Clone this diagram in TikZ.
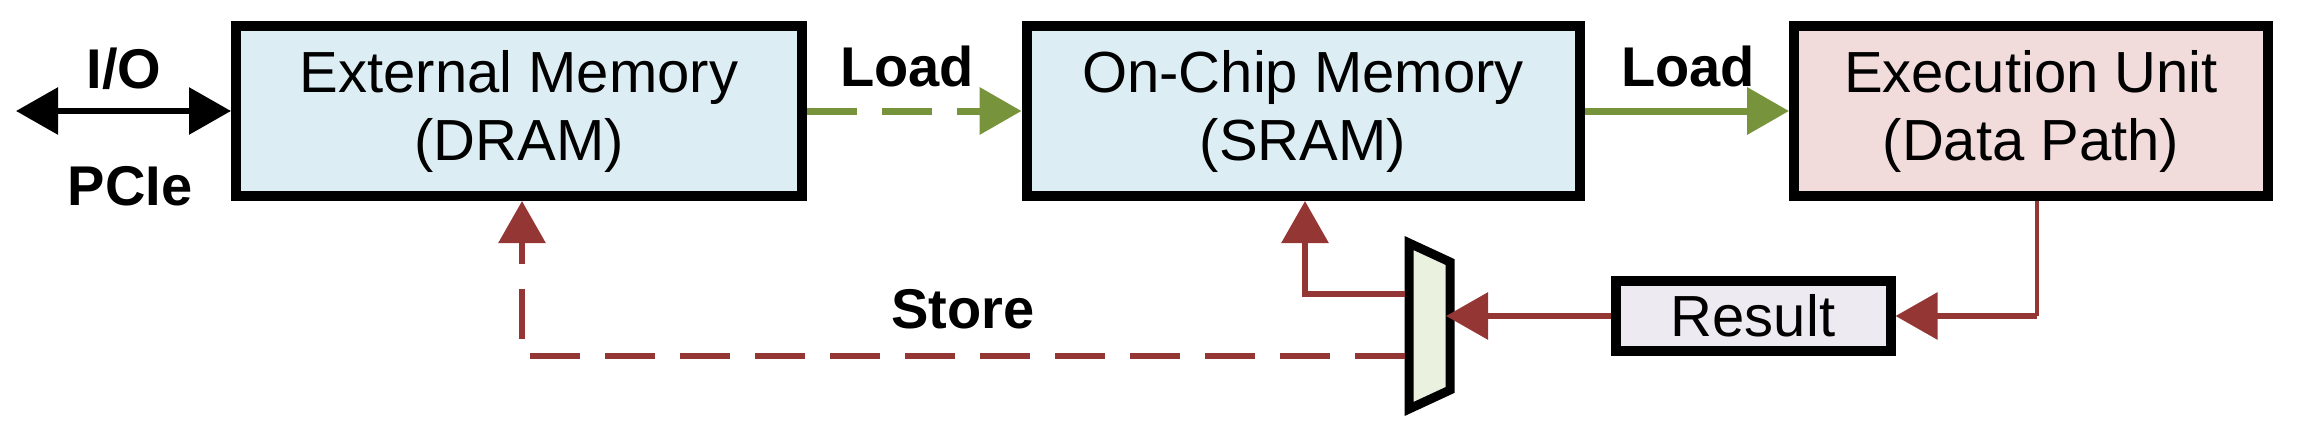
\documentclass[tikz,border=0pt]{standalone}
\usepackage{fontspec}
\setmainfont{Liberation Sans}
\usetikzlibrary{arrows.meta}
\definecolor{lblue}{HTML}{DCEEF3}
\definecolor{lpink}{HTML}{F2DCDB}
\definecolor{llav}{HTML}{EDEAF2}
\definecolor{lgreen}{HTML}{EBF1DF}
\definecolor{dgreen}{HTML}{77933C}
\definecolor{dred}{HTML}{943634}
\begin{document}
\begin{tikzpicture}[x=1pt,y=-1pt,
  box/.style={draw=black,line width=10pt,inner sep=0pt,align=center,font=\fontsize{58}{68}\selectfont},
  lbl/.style={font=\fontsize{56}{60}\selectfont\bfseries},
  tip/.style={-{Triangle[length=42pt,width=46pt]}},
  gr/.style={draw=dgreen,line width=7pt},
  rd/.style={draw=dred,line width=6pt}]
\useasboundingbox (0,0) rectangle (2305,431);
\node[box,fill=lblue,minimum width=566pt,minimum height=170pt] (dram) at (519,111) {External Memory\\(DRAM)};
\node[box,fill=lblue,minimum width=553pt,minimum height=170pt] (sram) at (1303,111) {On-Chip Memory\\(SRAM)};
\node[box,fill=lpink,minimum width=474pt,minimum height=170pt] (exec) at (2031,111) {Execution Unit\\(Data Path)};
\node[box,fill=llav,minimum width=275pt,minimum height=70pt] (res) at (1753,316) {Result};
\draw[line width=9pt,fill=lgreen] (1409,243) -- (1450,262) -- (1450,390) -- (1409,409) -- cycle;
\coordinate (muxr) at (1446,316);
\coordinate (muxa) at (1405,294);
\coordinate (muxb) at (1405,356);
\coordinate (io) at (16,111);
\coordinate (c1) at (522,356);
\coordinate (c2) at (1305,294);
\coordinate (c3) at (2037,316);
\draw[line width=6pt,{Triangle[length=42pt,width=46pt]}-{Triangle[length=42pt,width=46pt]}] (io) -- (dram.west);
\node[lbl] (iol) at (124,69) {I/O};
\node[lbl] (pcie) at (130,186) {PCIe};
\draw[gr,tip,dash pattern=on 50pt off 25pt] (dram.east) -- (sram.west);
\draw[gr,tip] (sram.east) -- (exec.west);
\node[lbl] (ld1) at (907,66) {Load};
\node[lbl] (ld2) at (1688,66) {Load};
\draw[draw=dred,line width=4pt] (exec.south -| c3) -- (c3);
\draw[rd,tip] (c3) -- (res.east);
\draw[rd,tip] (res.west) -- (muxr);
\draw[rd,tip] (muxa) -- (c2) -- (c2 |- sram.south);
\draw[rd,tip,dash pattern=on 50pt off 25pt] (muxb) -- (c1) -- (c1 |- dram.south);
\node[lbl] (st) at (963,309) {Store};
\end{tikzpicture}
\end{document}
